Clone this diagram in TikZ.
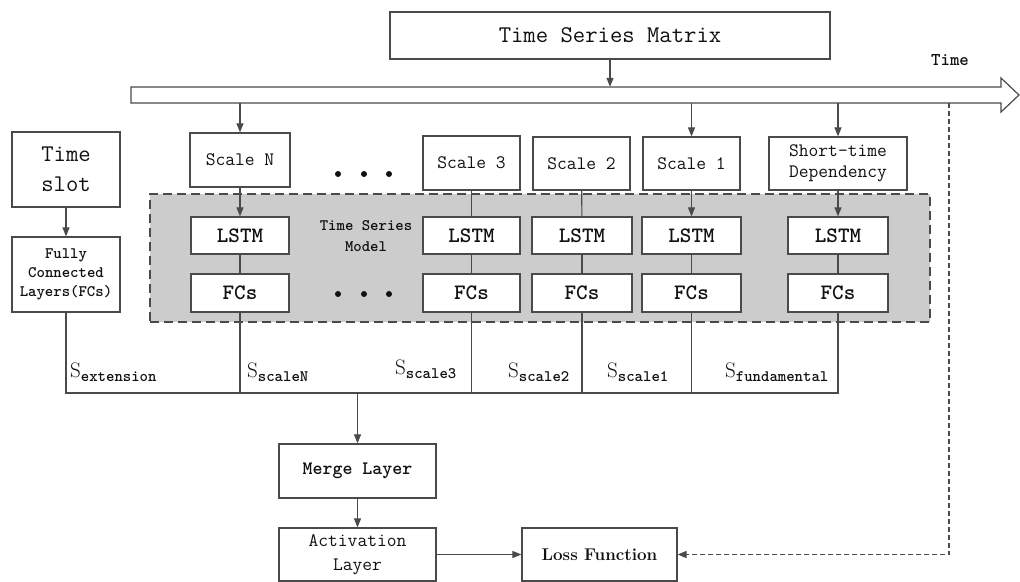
\documentclass[tikz,border=0pt]{standalone}
\usepackage{fontspec}
\usetikzlibrary{arrows.meta,fit}

\definecolor{linegray}{HTML}{4A4A4A}
\definecolor{panegray}{HTML}{CCCCCC}
\definecolor{inkgray}{HTML}{111111}

% branch label: S with a bold typewriter subscript
\newcommand{\slab}[1]{{\rmfamily\fontsize{21}{21}\selectfont S}%
  \raisebox{-4pt}{\ttfamily\bfseries\fontsize{16}{16}\selectfont #1}}

\begin{document}
\begin{tikzpicture}[x=1pt, y=-1pt,
  box/.style={draw=linegray, line width=1.2pt, fill=white, align=center,
              inner sep=0pt, text=inkgray},
  mono/.style={font=\ttfamily\fontsize{19}{21}\selectfont},
  monob/.style={font=\ttfamily\bfseries\fontsize{22}{24}\selectfont},
  arr/.style={-{Triangle[length=9pt,width=7pt]}, line width=1.1pt, draw=linegray},
  wire/.style={line width=1.1pt, draw=linegray},
  darr/.style={arr, dash pattern=on 5pt off 3pt, line width=1.4pt},
  lab/.style={anchor=base west, inner sep=0pt, text=inkgray},
  dot/.style={circle, fill=inkgray, inner sep=0pt, minimum size=6pt}
]
\useasboundingbox (0,0) rectangle (1020,581);

% ---------- input and time axis ----------
\node[box, mono, font=\ttfamily\fontsize{24}{26}\selectfont,
      minimum width=440pt, minimum height=47pt] (tsm) at (610,35.5) {Time Series Matrix};

\draw[line width=1.2pt, draw=linegray] (131,87) -- (1001,87) -- (1001,78) -- (1019,95)
  -- (1001,112) -- (1001,103) -- (131,103) -- cycle;
\node[fit={(131,87)(1001,103)}, inner sep=0pt] (band) {};
\node[text=inkgray, font=\ttfamily\bfseries\fontsize{18}{20}\selectfont] (timelbl) at (950,60) {Time};
\coordinate (tnow) at (949,103);

\draw[arr] (tsm) -- (tsm |- band.north);

% ---------- time series model ----------
\node[draw=linegray, dash pattern=on 9pt off 5pt, line width=1.2pt, fill=panegray,
      fit={(150,194)(930,322)}, inner sep=0pt] (pane) {};
\node[text=inkgray, align=center, font=\ttfamily\bfseries\fontsize{16}{21}\selectfont]
  (panelbl) at (366,236) {Time Series\\Model};

\node[box, mono, minimum width=100pt, minimum height=54pt] (scaleN) at (240,160) {Scale N};
\node[box, mono, minimum width=97pt, minimum height=54pt] (scale3) at (471.5,163) {Scale 3};
\node[box, mono, minimum width=97pt, minimum height=53pt] (scale2) at (581.5,163.5) {Scale 2};
\node[box, mono, minimum width=97pt, minimum height=53pt] (scale1) at (691.5,163.5) {Scale 1};
\node[box, mono, minimum width=138pt, minimum height=53pt] (sd) at (838,163.5)
  {Short-time\\Dependency};

\node[dot] (dA1) at (338,174) {};
\node[dot] (dA2) at (364,174) {};
\node[dot] (dA3) at (389,174) {};

\node[box, monob, minimum width=98pt, minimum height=37pt] (lstmN) at (240,235.5) {LSTM};
\node[box, monob, minimum width=97pt, minimum height=37pt] (lstm3) at (471.5,235.5) {LSTM};
\node[box, monob, minimum width=100pt, minimum height=37pt] (lstm2) at (582,235.5) {LSTM};
\node[box, monob, minimum width=99pt, minimum height=37pt] (lstm1) at (691.5,235.5) {LSTM};
\node[box, monob, minimum width=100pt, minimum height=37pt] (lstmsd) at (838,235.5) {LSTM};

\node[box, monob, minimum width=98pt, minimum height=38pt] (fcN) at (240,293) {FCs};
\node[box, monob, minimum width=97pt, minimum height=38pt] (fc3) at (471.5,293) {FCs};
\node[box, monob, minimum width=100pt, minimum height=38pt] (fc2) at (582,293) {FCs};
\node[box, monob, minimum width=99pt, minimum height=38pt] (fc1) at (691.5,293) {FCs};
\node[box, monob, minimum width=100pt, minimum height=38pt] (fcsd) at (838,293) {FCs};

\node[dot] (dB1) at (338,294) {};
\node[dot] (dB2) at (364,294) {};
\node[dot] (dB3) at (389,294) {};

\draw[arr] (band.south -| scaleN) -- (scaleN);
\draw[arr] (band.south -| scale1) -- (scale1);
\draw[arr] (band.south -| sd) -- (sd);

\draw[arr] (scaleN) -- (lstmN);
\draw[wire] (scale3) -- (lstm3);
\draw[wire] (scale2) -- (lstm2);
\draw[arr] (scale1) -- (lstm1);
\draw[arr] (sd) -- (lstmsd);

\draw[wire] (lstmN) -- (fcN);
\draw[wire] (lstm3) -- (fc3);
\draw[wire] (lstm2) -- (fc2);
\draw[wire] (lstm1) -- (fc1);
\draw[wire] (lstmsd) -- (fcsd);

% ---------- time slot branch ----------
\node[box, font=\ttfamily\fontsize{24}{30}\selectfont,
      minimum width=108pt, minimum height=75pt] (tslot) at (66,169.5) {Time\\slot};
\node[box, font=\ttfamily\bfseries\fontsize{16}{19}\selectfont,
      minimum width=108pt, minimum height=75pt] (fcl) at (66,274.5)
  {Fully\\Connected\\Layers(FCs)};
\draw[arr] (tslot) -- (fcl);

% ---------- merge and output ----------
\coordinate (bus) at (0,393);
\draw[wire] (fcl) -- (fcl |- bus) -- (fcsd |- bus) -- (fcsd);
\foreach \n in {fcN,fc3,fc2,fc1}
  \draw[wire] (\n) -- (\n |- bus);

\node[lab] (sext) at (70,377) {\slab{extension}};
\node[lab] (sN) at (247,377) {\slab{scaleN}};
\node[lab] (s3) at (395,374) {\slab{scale3}};
\node[lab] (s2) at (508,377) {\slab{scale2}};
\node[lab] (s1) at (607,377) {\slab{scale1}};
\node[lab] (sfund) at (725,377) {\slab{fundamental}};

\node[box, monob, font=\ttfamily\bfseries\fontsize{19}{21}\selectfont,
      minimum width=157pt, minimum height=54pt] (merge) at (357.5,471) {Merge Layer};
\node[box, font=\ttfamily\fontsize{19}{24}\selectfont,
      minimum width=157pt, minimum height=53pt] (act) at (357.5,554.5) {Activation\\Layer};
\node[box, font=\rmfamily\bfseries\fontsize{17}{19}\selectfont,
      minimum width=155pt, minimum height=53pt] (loss) at (599.5,554.5) {Loss Function};

\draw[arr] (merge |- bus) -- (merge);
\draw[arr] (merge) -- (act);
\draw[arr] (act) -- (loss);
\draw[darr] (tnow) |- (loss);

\end{tikzpicture}
\end{document}
